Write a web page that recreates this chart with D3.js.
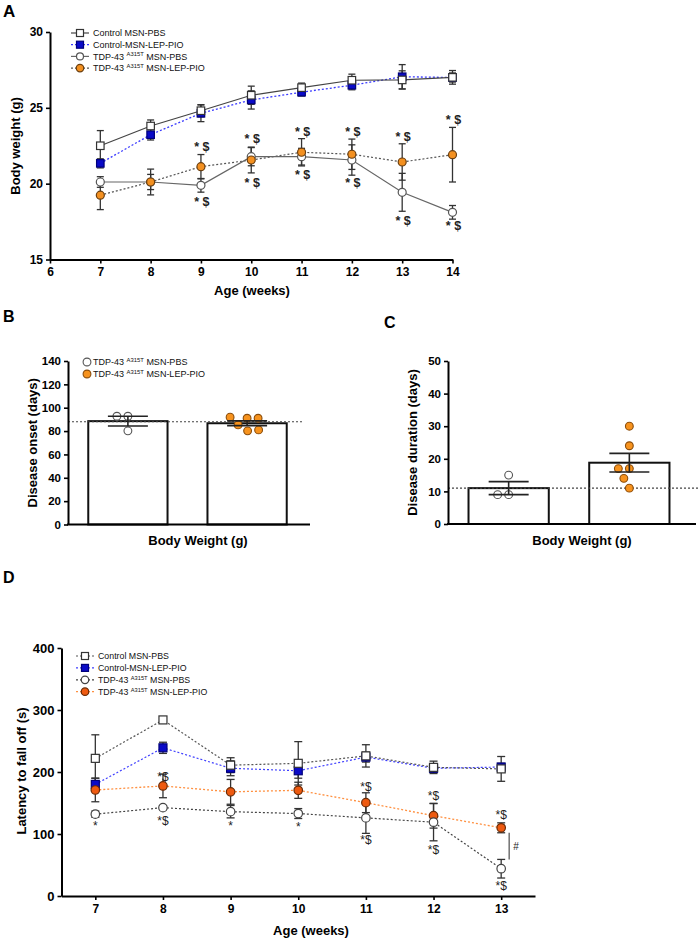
<!DOCTYPE html>
<html><head><meta charset="utf-8">
<script src="https://cdn.jsdelivr.net/npm/d3@7"></script>
<style>body{margin:0;background:#fff} svg{display:block}</style>
</head><body><svg id="c" width="700" height="938"></svg>
<script>
// ---------- DATA ----------
// Panel A: body weight (g)
const weeksA = [7, 8, 9, 10, 11, 12, 13, 14];
const bwCtrlPBS    = [22.50, 23.80, 24.81, 25.83, 26.33, 26.82, 26.84, 27.01];
const bwCtrlPBSErr = [1.0, 0.4, 0.4, 0.6, 0.3, 0.4, 0.6, 0.45];
const bwCtrlLEP    = [21.34, 23.23, 24.64, 25.52, 26.03, 26.49, 27.05, 27.0];
const bwCtrlLEPErr = [0.3, 0.35, 0.55, 0.6, 0.25, 0.3, 0.8, 0.3];
const bwTdpPBS     = [20.11, 20.11, 19.89, 21.78, 21.78, 21.56, 19.43, 18.11];
const bwTdpPBSErr  = [0.35, 0.5, 0.45, 0.6, 0.55, 1.0, 1.25, 0.45];
const bwTdpLEP     = [19.24, 20.11, 21.12, 21.56, 22.07, 21.94, 21.43, 21.91];
const bwTdpLEPErr  = [0.95, 0.85, 0.8, 0.85, 0.9, 1.0, 1.2, 1.8];
const annotAWeeks  = [9, 10, 11, 12, 13, 14];
const annotAAbove  = [22.4, 22.93, 23.43, 23.43, 23.06, 24.22];
const annotABelow  = [18.81, 20.03, 20.57, 20.07, 17.52, 17.21];
const yTicksA = [15, 20, 25, 30];
const xTicksA = [6, 7, 8, 9, 10, 11, 12, 13, 14];

// Legend labels
const legendLabels = [
  ["Control MSN-PBS"],
  ["Control-MSN-LEP-PIO"],
  ["TDP-43 ", "A315T", " MSN-PBS"],
  ["TDP-43 ", "A315T", " MSN-LEP-PIO"]
];

// Panel B: disease onset (days)
const barGroups = ["TDP-43 MSN-PBS", "TDP-43 MSN-LEP-PIO"];
const onsetMean = [88.5, 86.7];
const onsetSem = [4.2, 2.0];
const onsetPBSPoints = [92.7, 92.7, 80.2];
const onsetLEPPoints = [91, 85.3, 91, 80.2, 91.9, 81];
const onsetRef = 88;
const yTicksB = [0, 20, 40, 60, 80, 100, 120, 140];

// Panel C: disease duration (days)
const durMean = [11, 18.8];
const durSem = [2.0, 2.85];
const durPBSPoints = [15, 9, 9];
const durLEPPoints = [30, 24, 17, 17, 14, 11];
const durRef = 11;
const yTicksC = [0, 10, 20, 30, 40, 50];

// Panel D: latency to fall off (s)
const weeksD = [7, 8, 9, 10, 11, 12, 13];
const rrCtrlPBS    = [222, 284, 211, 214, 226, 207.5, 205];
const rrCtrlPBSErr = [38, 3, 12, 35, 18, 10, 20];
const rrCtrlLEP    = [180, 239, 206, 202, 224, 206, 208];
const rrCtrlLEPErr = [10, 9, 12, 12, 8, 6, 6];
const rrTdpPBS     = [132, 142.5, 136, 133, 126, 119, 44];
const rrTdpPBSErr  = [5, 3, 10, 8, 25, 30, 15];
const rrTdpLEP     = [171, 177.5, 168, 170.5, 150.5, 129.5, 110];
const rrTdpLEPErr  = [19, 19, 20, 13, 16, 20, 8];
const annotDAboveWeeks = [8, 11, 12, 13];
const annotDAbove      = [192, 176, 162, 131];
const annotDBelowWeeks = [7, 8, 9, 10, 11, 12, 13];
const annotDBelow      = [113, 121.5, 113, 112, 90, 74, 16];
const annotDBelowText  = ["*", "*$", "*", "*", "*$", "*$", "*$"];
const yTicksD = [0, 100, 200, 300, 400];

// ---------- DRAWING ----------
const FONT = '"Liberation Sans", Arial, Helvetica, sans-serif';
const svg = d3.select("#c");

function styleAxis(g, fs) {
  g.selectAll("path.domain").attr("stroke", "#000").attr("stroke-width", 2);
  g.selectAll(".tick line").attr("stroke", "#000").attr("stroke-width", 1.6);
  g.selectAll(".tick text").attr("font-family", FONT).attr("font-weight", "bold")
    .attr("font-size", fs).attr("fill", "#000");
}
function txt(x, y, s, o = {}) {
  const t = svg.append("text").attr("x", x).attr("y", y).text(s)
    .attr("font-family", FONT).attr("font-size", o.size || 13)
    .attr("font-weight", o.weight || "bold").attr("fill", o.fill || "#000")
    .attr("text-anchor", o.anchor || "start");
  if (o.rotate) t.attr("transform", `rotate(-90,${x},${y})`);
  if (o.baseline) t.attr("dominant-baseline", o.baseline);
  return t;
}
function marker(g, shape, cx, cy, st) {
  if (shape === "square") {
    g.append("rect").attr("x", cx - st.size / 2).attr("y", cy - st.size / 2)
      .attr("width", st.size).attr("height", st.size)
      .attr("fill", st.fill).attr("stroke", st.stroke).attr("stroke-width", st.sw || 1.2);
  } else {
    g.append("circle").attr("cx", cx).attr("cy", cy).attr("r", st.size / 2)
      .attr("fill", st.fill).attr("stroke", st.stroke).attr("stroke-width", st.sw || 1.2);
  }
}
function drawLine(g, x, y, weeks, vals, st) {
  const line = d3.line().x((d, i) => x(weeks[i])).y(d => y(d));
  g.append("path").attr("d", line(vals)).attr("fill", "none")
    .attr("stroke", st.line).attr("stroke-width", st.lw || 1.2)
    .attr("stroke-dasharray", st.dash || null);
}
function drawErr(g, x, y, weeks, vals, errs, cap) {
  vals.forEach((v, i) => {
    const cx = x(weeks[i]), y1 = y(v + errs[i]), y2 = y(v - errs[i]);
    g.append("line").attr("x1", cx).attr("x2", cx).attr("y1", y1).attr("y2", y2)
      .attr("stroke", "#333").attr("stroke-width", 1.3);
    [y1, y2].forEach(yy => g.append("line").attr("x1", cx - cap).attr("x2", cx + cap)
      .attr("y1", yy).attr("y2", yy).attr("stroke", "#333").attr("stroke-width", 1.3));
  });
}
function drawMarkers(g, x, y, weeks, vals, st) {
  vals.forEach((v, i) => marker(g, st.shape, x(weeks[i]), y(v), st));
}
function drawLegend(x0, y0, dy, items, fs) {
  const g = svg.append("g");
  items.forEach((it, i) => {
    const yy = y0 + i * dy;
    if (it.line) g.append("line").attr("x1", x0 - 9).attr("x2", x0 + 9).attr("y1", yy).attr("y2", yy)
      .attr("stroke", it.line).attr("stroke-width", it.lw || 1.2).attr("stroke-dasharray", it.dash || null);
    marker(g, it.shape, x0, yy, it);
    const t = g.append("text").attr("x", x0 + 13).attr("y", yy + 3.3)
      .attr("font-family", FONT).attr("font-size", fs).attr("fill", "#111");
    const parts = legendLabels[it.label];
    t.append("tspan").text(parts[0]);
    if (parts.length > 1) {
      t.append("tspan").text(parts[1]).attr("font-size", fs * 0.65).attr("dy", -3.5);
      t.append("tspan").text(parts[2]).attr("dy", 3.5);
    }
  });
}

// ===== Panel A =====
const gA = svg.append("g");
const xA = d3.scaleLinear().domain([6, 14]).range([50, 452.5]);
const yA = d3.scaleLinear().domain([15, 30]).range([259.5, 32]);
styleAxis(gA.append("g").attr("transform", "translate(0,259.5)")
  .call(d3.axisBottom(xA).tickValues(xTicksA).tickSize(4).tickPadding(4).tickSizeOuter(0).tickFormat(d3.format("d"))), 12);
styleAxis(gA.append("g").attr("transform", "translate(50,0)")
  .call(d3.axisLeft(yA).tickValues(yTicksA).tickSize(4).tickPadding(3).tickSizeOuter(0)), 12);

const stA = {
  cPBS: { line: "#444", shape: "square", fill: "#fff", stroke: "#333", size: 7.5 },
  cLEP: { line: "#3a3aff", dash: "2,2", lw: 1.3, shape: "square", fill: "#0a0ac8", stroke: "#00007a", size: 7.5 },
  tPBS: { line: "#666", shape: "circle", fill: "#fff", stroke: "#555", size: 8 },
  tLEP: { line: "#555", dash: "2,2", shape: "circle", fill: "#f39020", stroke: "#6b3f10", size: 8 }
};
drawLine(gA, xA, yA, weeksA, bwCtrlLEP, stA.cLEP);
drawLine(gA, xA, yA, weeksA, bwCtrlPBS, stA.cPBS);
drawLine(gA, xA, yA, weeksA, bwTdpLEP, stA.tLEP);
drawLine(gA, xA, yA, weeksA, bwTdpPBS, stA.tPBS);
drawErr(gA, xA, yA, weeksA, bwCtrlLEP, bwCtrlLEPErr, 3.5);
drawErr(gA, xA, yA, weeksA, bwCtrlPBS, bwCtrlPBSErr, 3.5);
drawErr(gA, xA, yA, weeksA, bwTdpLEP, bwTdpLEPErr, 3.5);
drawErr(gA, xA, yA, weeksA, bwTdpPBS, bwTdpPBSErr, 3.5);
drawMarkers(gA, xA, yA, weeksA, bwCtrlLEP, stA.cLEP);
drawMarkers(gA, xA, yA, weeksA, bwCtrlPBS, stA.cPBS);
drawMarkers(gA, xA, yA, weeksA, bwTdpPBS, stA.tPBS);
drawMarkers(gA, xA, yA, weeksA, bwTdpLEP, stA.tLEP);
annotAWeeks.forEach((w, i) => {
  txt(xA(w) + 1, yA(annotAAbove[i]), "* $", { size: 12.5, anchor: "middle", baseline: "central", fill: "#222" });
  txt(xA(w) + 1, yA(annotABelow[i]), "* $", { size: 12.5, anchor: "middle", baseline: "central", fill: "#222" });
});
drawLegend(80, 33, 11.7, [
  Object.assign({ label: 0 }, stA.cPBS, { size: 7 }),
  Object.assign({ label: 1 }, stA.cLEP, { size: 7 }),
  Object.assign({ label: 2 }, stA.tPBS, { size: 7 }),
  Object.assign({ label: 3 }, stA.tLEP, { size: 7.5 })
], 9);
txt(20, 146, "Body weight (g)", { rotate: true, anchor: "middle" });
txt(252, 295, "Age (weeks)", { anchor: "middle" });
txt(3, 17, "A", { size: 17 });

// ===== Panels B & C =====
function swarm(vals, y, cx, minDist) {
  const placed = [];
  vals.forEach(v => {
    const py = y(v);
    let off = 0;
    for (let k = 0; k < 400; k++) {
      const cand = (k === 0 ? 0 : (k % 2 ? -1 : 1) * Math.ceil(k / 2)) * 0.5;
      if (placed.every(p => Math.hypot(p.x - (cx + cand), p.y - py) >= minDist)) { off = cand; break; }
    }
    placed.push({ x: cx + off, y: py });
  });
  return placed;
}
function barPanel(o) {
  const g = svg.append("g");
  const x = d3.scaleBand().domain(barGroups).range(o.xr).paddingInner(0.335).paddingOuter(0.17);
  const y = d3.scaleLinear().domain(o.ydom).range(o.yr);
  g.selectAll("rect.bar").data(o.mean).enter().append("rect")
    .attr("x", (d, i) => x(barGroups[i])).attr("width", x.bandwidth())
    .attr("y", d => y(d)).attr("height", d => y(0) - y(d))
    .attr("fill", "#fff").attr("stroke", "#111").attr("stroke-width", 2);
  g.append("line").attr("x1", o.xr[0]).attr("x2", o.refEnd).attr("y1", y(o.ref)).attr("y2", y(o.ref))
    .attr("stroke", "#444").attr("stroke-width", 1.1).attr("stroke-dasharray", "2,2");
  const pts = [o.ptsPBS, o.ptsLEP];
  pts.forEach((arr, gi) => {
    const cx = x(barGroups[gi]) + x.bandwidth() / 2;
    swarm(arr, y, cx, o.dist).forEach(p => {
      g.append("circle").attr("cx", p.x).attr("cy", p.y).attr("r", 3.9)
        .attr("fill", gi ? "#f7931e" : "#fff").attr("stroke", gi ? "#8a4d0c" : "#555").attr("stroke-width", 1.1);
    });
  });
  o.mean.forEach((m, i) => {
    const cx = x(barGroups[i]) + x.bandwidth() / 2;
    const y1 = y(m + o.sem[i]), y2 = y(m - o.sem[i]);
    g.append("line").attr("x1", cx).attr("x2", cx).attr("y1", y1).attr("y2", y2).attr("stroke", "#222").attr("stroke-width", 1.6);
    [y1, y2].forEach(yy => g.append("line").attr("x1", cx - 20).attr("x2", cx + 20)
      .attr("y1", yy).attr("y2", yy).attr("stroke", "#222").attr("stroke-width", 1.6));
  });
  styleAxis(g.append("g").attr("transform", `translate(${o.xr[0]},0)`)
    .call(d3.axisLeft(y).tickValues(o.ticks).tickSize(4).tickPadding(3).tickSizeOuter(0)), 11.5);
  g.append("line").attr("x1", o.xr[0] - 1).attr("x2", o.axisEnd).attr("y1", y(0)).attr("y2", y(0))
    .attr("stroke", "#000").attr("stroke-width", 2);
  txt(o.titleX, (o.yr[0] + o.yr[1]) / 2, o.ytitle, { rotate: true, anchor: "middle" });
  txt(o.xtitleX, 545, "Body Weight (g)", { anchor: "middle" });
}
barPanel({ xr: [68, 307], axisEnd: 310, refEnd: 303, ydom: [0, 140], yr: [524.5, 361], ticks: yTicksB,
  mean: onsetMean, sem: onsetSem, ptsPBS: onsetPBSPoints, ptsLEP: onsetLEPPoints, ref: onsetRef, dist: 11,
  titleX: 37, ytitle: "Disease onset (days)", xtitleX: 198 });
barPanel({ xr: [448, 690], axisEnd: 696, refEnd: 700, ydom: [0, 50], yr: [524, 361], ticks: yTicksC,
  mean: durMean, sem: durSem, ptsPBS: durPBSPoints, ptsLEP: durLEPPoints, ref: durRef, dist: 11,
  titleX: 417, ytitle: "Disease duration (days)", xtitleX: 582 });
[0, 1].forEach(i => {
  const yy = 362 + i * 12;
  svg.append("circle").attr("cx", 87).attr("cy", yy).attr("r", 3.9)
    .attr("fill", i ? "#f7931e" : "#fff").attr("stroke", i ? "#8a4d0c" : "#555").attr("stroke-width", 1.1);
  const t = svg.append("text").attr("x", 93).attr("y", yy + 3.3).attr("font-family", FONT).attr("font-size", 9).attr("fill", "#111");
  const parts = legendLabels[i + 2];
  t.append("tspan").text(parts[0]);
  t.append("tspan").text(parts[1]).attr("font-size", 5.9).attr("dy", -3.5);
  t.append("tspan").text(parts[2]).attr("dy", 3.5);
});
txt(3, 322, "B", { size: 16 });
txt(384, 328, "C", { size: 16 });

// ===== Panel D =====
const gD = svg.append("g");
const xD = d3.scaleLinear().domain([6.5, 13.5]).range([61.5, 535]);
const yD = d3.scaleLinear().domain([0, 400]).range([896, 648]);
styleAxis(gD.append("g").attr("transform", "translate(0,896)")
  .call(d3.axisBottom(xD).tickValues(weeksD).tickSize(4).tickPadding(4).tickSizeOuter(0).tickFormat(d3.format("d"))), 12);
styleAxis(gD.append("g").attr("transform", "translate(61.5,0)")
  .call(d3.axisLeft(yD).tickValues(yTicksD).tickSize(4).tickPadding(3).tickSizeOuter(0)), 13);
const stD = {
  cPBS: { line: "#555", dash: "2,2", shape: "square", fill: "#fff", stroke: "#333", size: 8 },
  cLEP: { line: "#4040ff", dash: "2,2", shape: "square", fill: "#0a0ac8", stroke: "#00007a", size: 8 },
  tPBS: { line: "#444", dash: "2,2", shape: "circle", fill: "#fff", stroke: "#444", size: 8.5 },
  tLEP: { line: "#ff9040", dash: "2,2", lw: 1.3, shape: "circle", fill: "#ee5a10", stroke: "#6a2a05", size: 8.5 }
};
drawLine(gD, xD, yD, weeksD, rrCtrlLEP, stD.cLEP);
drawLine(gD, xD, yD, weeksD, rrCtrlPBS, stD.cPBS);
drawLine(gD, xD, yD, weeksD, rrTdpLEP, stD.tLEP);
drawLine(gD, xD, yD, weeksD, rrTdpPBS, stD.tPBS);
drawErr(gD, xD, yD, weeksD, rrCtrlLEP, rrCtrlLEPErr, 4);
drawErr(gD, xD, yD, weeksD, rrCtrlPBS, rrCtrlPBSErr, 4);
drawErr(gD, xD, yD, weeksD, rrTdpLEP, rrTdpLEPErr, 4);
drawErr(gD, xD, yD, weeksD, rrTdpPBS, rrTdpPBSErr, 4);
drawMarkers(gD, xD, yD, weeksD, rrCtrlLEP, stD.cLEP);
drawMarkers(gD, xD, yD, weeksD, rrCtrlPBS, stD.cPBS);
drawMarkers(gD, xD, yD, weeksD, rrTdpLEP, stD.tLEP);
drawMarkers(gD, xD, yD, weeksD, rrTdpPBS, stD.tPBS);
annotDAboveWeeks.forEach((w, i) =>
  txt(xD(w), yD(annotDAbove[i]), "*$", { size: 12, weight: "normal", anchor: "middle", baseline: "central", fill: "#222" }));
annotDBelowWeeks.forEach((w, i) =>
  txt(xD(w), yD(annotDBelow[i]), annotDBelowText[i], { size: 12, weight: "normal", anchor: "middle", baseline: "central", fill: "#222" }));
{
  const last = weeksD.length - 1;
  const bx = xD(weeksD[last]) + 8;
  const yTop = yD(rrTdpLEP[last] - rrTdpLEPErr[last]), yBot = yD(rrTdpPBS[last] + rrTdpPBSErr[last]);
  gD.append("line").attr("x1", bx).attr("x2", bx).attr("y1", yTop).attr("y2", yBot)
    .attr("stroke", "#666").attr("stroke-width", 1.4);
  txt(bx + 4, (yTop + yBot) / 2, "#", { size: 10, weight: "normal", baseline: "central", fill: "#222" });
}
drawLegend(85, 656, 11.9, [
  Object.assign({ label: 0 }, stD.cPBS, { size: 7 }),
  Object.assign({ label: 1 }, stD.cLEP, { size: 7 }),
  Object.assign({ label: 2 }, stD.tPBS, { size: 7.5 }),
  Object.assign({ label: 3 }, stD.tLEP, { size: 7.5 })
], 8.8);
txt(26, 771, "Latency to fall off (s)", { rotate: true, anchor: "middle" });
txt(311, 935, "Age (weeks)", { anchor: "middle" });
txt(3, 583, "D", { size: 16 });
</script></body></html>
